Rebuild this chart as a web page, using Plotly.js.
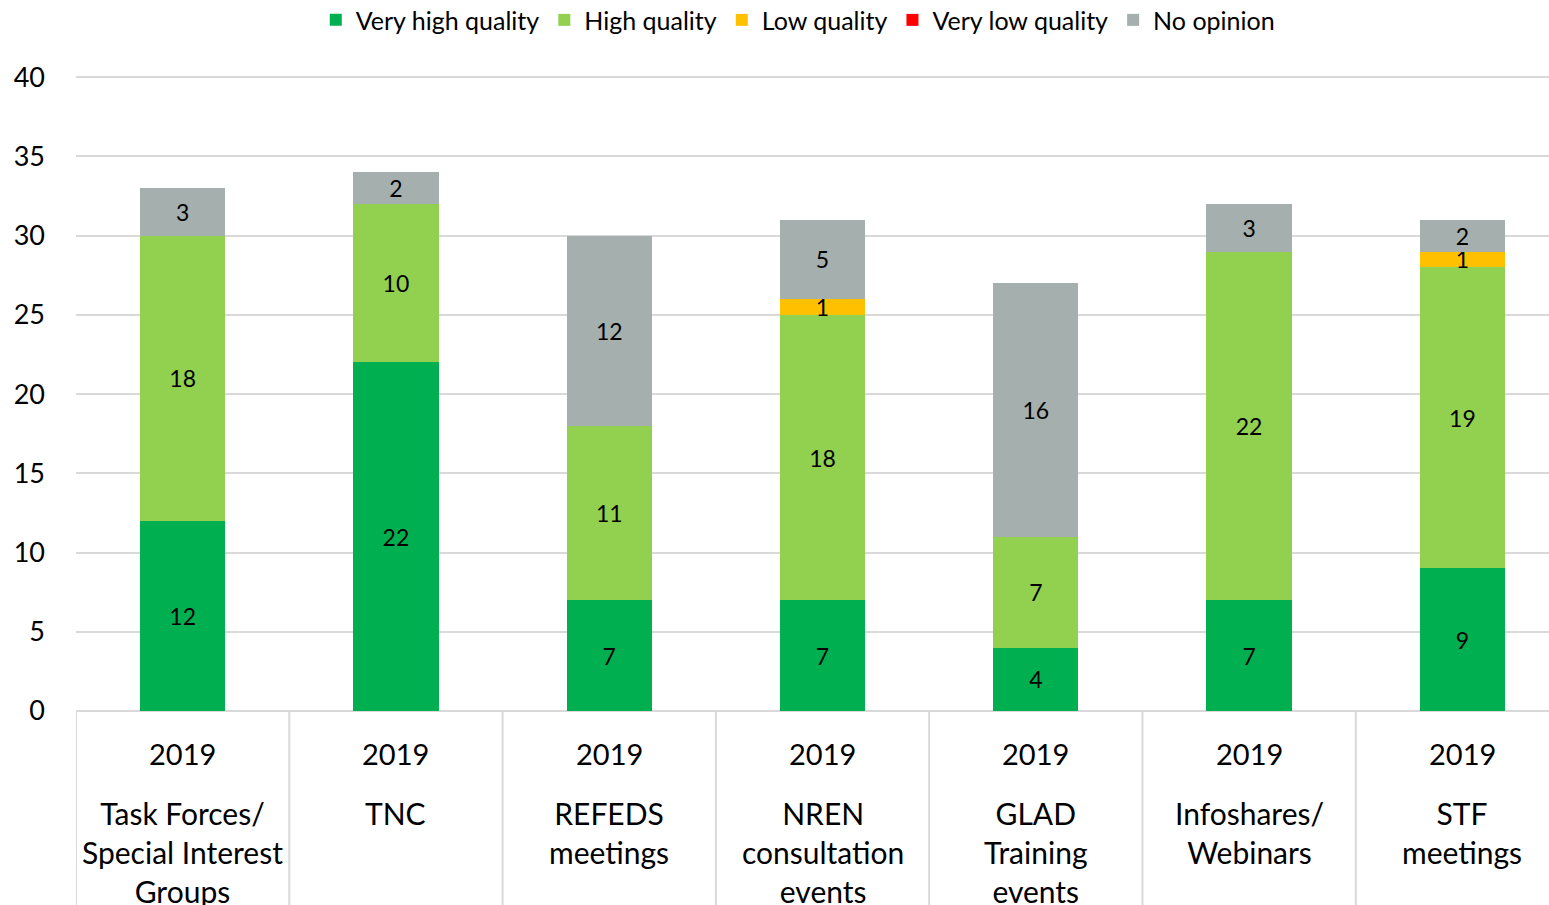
<!DOCTYPE html>
<html>
<head>
<meta charset="utf-8">
<script src="https://cdn.plot.ly/plotly-3.0.1.min.js"></script>
<style>
  html, body { margin: 0; padding: 0; background: #fff; }
  #chart { width: 1549px; height: 905px; }
</style>
</head>
<body>
<div id="chart"></div>
<script>
// categories and year row
const categories = [
    "Task Forces/<br>Special Interest<br>Groups",
    "TNC",
    "REFEDS<br>meetings",
    "NREN<br>consultation<br>events",
    "GLAD<br>Training<br>events",
    "Infoshares/<br>Webinars",
    "STF<br>meetings"
];
const years = ["2019", "2019", "2019", "2019", "2019", "2019", "2019"];

// series values
const veryHigh = [12, 22, 7, 7, 4, 7, 9];
const high     = [18, 10, 11, 18, 7, 22, 19];
const low      = [0, 0, 0, 1, 0, 0, 1];
const veryLow  = [0, 0, 0, 0, 0, 0, 0];
const noOpinion = [3, 2, 12, 5, 16, 3, 2];

const seriesNames = ["Very high quality", "High quality", "Low quality", "Very low quality", "No opinion"];
const seriesColors = ["#00B050", "#92D050", "#FFC000", "#FF0000", "#A5AFAE"];
const seriesValues = [veryHigh, high, low, veryLow, noOpinion];

const FONT = "Lato, 'Open Sans', sans-serif";
const idx = categories.map((c, i) => i);

// one bar trace per quality level
let traces = seriesValues.map((vals, s) => ({
    type: 'bar',
    name: seriesNames[s],
    x: idx,
    y: vals,
    marker: { color: seriesColors[s], line: { width: 0 } },
    text: vals.map(v => v > 0 ? String(v) : ''),
    textposition: 'inside',
    insidetextanchor: 'middle',
    textangle: 0,
    constraintext: 'none',
    insidetextfont: { family: FONT, size: 23, color: '#000' },
    hoverinfo: 'name+y'
}));

// separators below the axis, like a table
let shapes = [];
for (let i = 0; i <= categories.length; i++) {
    shapes.push({
        type: 'line', xref: 'x', yref: 'paper',
        x0: i - 0.5, x1: i - 0.5, y0: 0, y1: -0.32,
        line: { color: '#D9D9D9', width: 2 }
    });
}

// year row + category names
let annotations = [];
categories.forEach((c, i) => {
    annotations.push({
        x: i, y: 0, xref: 'x', yref: 'paper',
        text: years[i], showarrow: false,
        yanchor: 'middle', yshift: -42,
        font: { family: FONT, size: 29, color: '#000' }
    });
    annotations.push({
        x: i, y: 0, xref: 'x', yref: 'paper',
        text: c, showarrow: false,
        yanchor: 'top', yshift: -82, align: 'center',
        font: { family: FONT, size: 30, color: '#000' }
    });
});

let layout = {
    width: 1549,
    height: 905,
    margin: { l: 76, r: 0, t: 76, b: 194, autoexpand: false },
    paper_bgcolor: '#fff',
    plot_bgcolor: '#fff',
    barmode: 'stack',
    bargap: 0.6,
    showlegend: true,
    legend: {
        orientation: 'h',
        x: 0.49, xanchor: 'center',
        y: 1.088, yanchor: 'middle',
        traceorder: 'normal',
        font: { family: FONT, size: 25, color: '#000' },
        itemwidth: 30
    },
    xaxis: {
        type: 'linear',
        range: [-0.5, 6.406],
        showticklabels: false,
        showgrid: false,
        zeroline: false,
        showline: false,
        ticks: ''
    },
    yaxis: {
        range: [0, 40.08],
        dtick: 5,
        tick0: 0,
        showgrid: true,
        gridcolor: '#D9D9D9',
        gridwidth: 2,
        zeroline: true,
        zerolinecolor: '#D9D9D9',
        zerolinewidth: 2,
        ticks: '',
        ticklabelstandoff: 30,
        tickfont: { family: FONT, size: 27, color: '#000' }
    },
    shapes: shapes,
    annotations: annotations
};

Plotly.newPlot('chart', traces, layout, { displayModeBar: false, responsive: false });
</script>
</body>
</html>
